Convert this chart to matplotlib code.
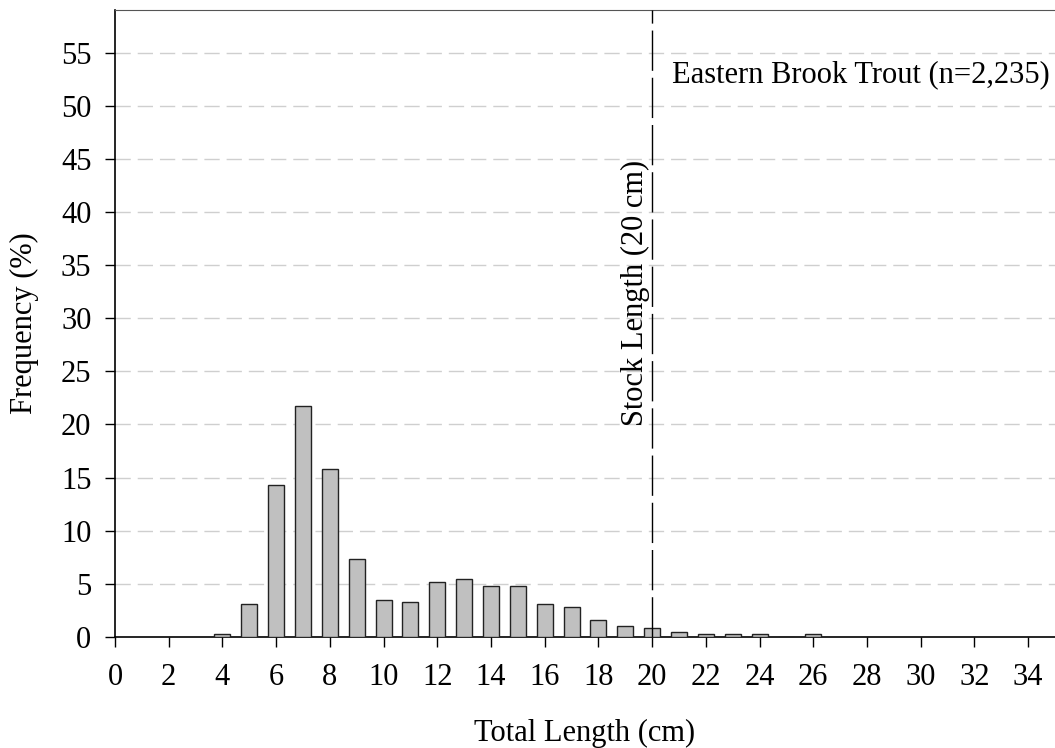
import numpy as np
import matplotlib
matplotlib.use('Agg')
import matplotlib.pyplot as plt

# length classes (cm) and percent frequency
lengths = np.arange(4, 27)
freq = [0.3, 3.1, 14.3, 21.7, 15.8, 7.3, 3.5, 3.3, 5.2, 5.5, 4.8, 4.8,
        3.1, 2.8, 1.6, 1.0, 0.8, 0.5, 0.3, 0.3, 0.3, 0.0, 0.3]
stock_length = 20
species_label = 'Eastern Brook Trout (n=2,235)'

plt.rcParams['font.family'] = ['Liberation Serif', 'DejaVu Serif']
plt.rcParams['font.size'] = 22

fig = plt.figure(figsize=(10.55, 7.48), dpi=100)
ax = fig.add_axes([0.109, 0.1484, 0.891, 0.8382])

ax.bar(lengths, freq, width=0.6, color='#c0c0c0', edgecolor='#222222',
       linewidth=1.0, zorder=3)

# stock length marker
ax.axvline(stock_length, color='black', linewidth=1.0,
           dashes=(29, 5), zorder=4)
ax.text(19.37, 32.4, 'Stock Length (20 cm)', rotation=90,
        ha='center', va='center', zorder=5)
ax.text(20.75, 52.9, species_label, ha='left', va='center', zorder=5)

ax.set_xlim(0, 35)
ax.set_ylim(0, 59)
ax.set_xticks(np.arange(0, 35, 2))
ax.set_yticks(np.arange(0, 60, 5))

# light dashed horizontal grid
for y in np.arange(5, 60, 5):
    ax.axhline(y, color='#cfcfcf', linewidth=1.0, dashes=(11, 5), zorder=1)

ax.spines['right'].set_visible(False)
ax.spines['top'].set_color('#555555')
ax.spines['left'].set_linewidth(1.2)
ax.spines['bottom'].set_linewidth(1.2)
ax.tick_params(axis='y', direction='out', length=7, width=1, pad=10)
ax.tick_params(axis='x', direction='out', length=7, width=1, pad=12)

ax.set_xlabel('Total Length (cm)')
ax.set_ylabel('Frequency (%)')
ax.xaxis.set_label_coords(0.5, -0.131)
ax.yaxis.set_label_coords(-0.081, 0.5)

fig.savefig('out.png', dpi=100)
